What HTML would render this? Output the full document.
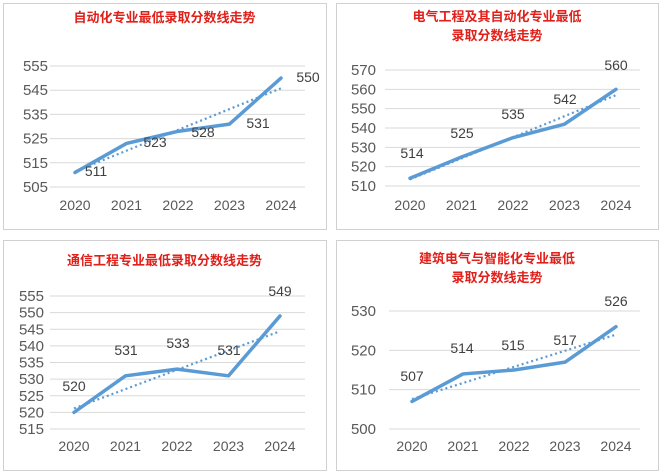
<!DOCTYPE html>
<html><head><meta charset="utf-8"><style>
html,body{margin:0;padding:0;background:#fff;}
svg{display:block;}
text{font-family:"Liberation Sans","Noto Sans CJK SC",sans-serif;}
</style></head><body>
<svg id="s" width="662" height="474" xmlns="http://www.w3.org/2000/svg"></svg>
<script>
var s=document.getElementById('s');var h='';
var P=[
 {bx:3,by:3,bw:323,bh:226,titles:[['自动化专业最低录取分数线走势',22]],ticks:[555,545,535,525,515,505],y0:66,y1:187,gx0:50,gx1:305,tx:48,x0:75,dx:51.5,
  data:[511,523,528,531,550],lab:[[96,176],[155,147],[203,137],[258,128],[308,82]],yl:210},
 {bx:336,by:3,bw:322,bh:226,titles:[['电气工程及其自动化专业最低',21],['录取分数线走势',40]],ticks:[570,560,550,540,530,520,510],y0:70,y1:186,gx0:385,gx1:640,tx:376,x0:410,dx:51.5,
  data:[514,525,535,542,560],lab:[[412,158],[462,138],[513,119],[565,104],[616,70]],yl:210},
 {bx:3,by:240,bw:323,bh:230,titles:[['通信工程专业最低录取分数线走势',265]],ticks:[555,550,545,540,535,530,525,520,515],y0:296,y1:429,gx0:50,gx1:305,tx:44,x0:74,dx:51.5,
  data:[520,531,533,531,549],lab:[[74,391],[126,355],[178,348],[229,355],[280,296]],yl:451},
 {bx:336,by:240,bw:322,bh:230,titles:[['建筑电气与智能化专业最低',263],['录取分数线走势',282]],ticks:[530,520,510,500],y0:311,y1:429,gx0:389,gx1:640,tx:376,x0:412,dx:51,
  data:[507,514,515,517,526],lab:[[412,381],[462,353],[513,350],[565,345],[616,306]],yl:451}
];
P.forEach(function(p){
 h+='<rect x="'+p.bx+'.5" y="'+p.by+'.5" width="'+p.bw+'" height="'+p.bh+'" fill="#fff" stroke="#d0d0d0"/>';
 var cx=p.bx+p.bw/2;
 p.titles.forEach(function(t){h+='<text x="'+cx+'" y="'+t[1]+'" text-anchor="middle" font-size="13" font-weight="bold" fill="#e0201a">'+t[0]+'</text>';});
 var n=p.ticks.length,vmax=p.ticks[0],vmin=p.ticks[n-1];
 function Y(v){return p.y0+(vmax-v)/(vmax-vmin)*(p.y1-p.y0);}
 function X(i){return p.x0+i*p.dx;}
 p.ticks.forEach(function(v){var y=Y(v);
  h+='<line x1="'+p.gx0+'" x2="'+p.gx1+'" y1="'+y+'" y2="'+y+'" stroke="#d9d9d9"/>';
  h+='<text x="'+p.tx+'" y="'+(y+5)+'" text-anchor="end" font-size="15" fill="#595959">'+v+'</text>';});
 for(var i=0;i<5;i++)h+='<text x="'+X(i)+'" y="'+p.yl+'" text-anchor="middle" font-size="14" fill="#595959">'+(2020+i)+'</text>';
 var m=p.data.reduce(function(a,b){return a+b;},0)/5,sl=0;for(i=0;i<5;i++)sl+=(i-2)*p.data[i];sl/=10;
 h+='<line x1="'+X(0)+'" y1="'+Y(m-2*sl)+'" x2="'+X(4)+'" y2="'+Y(m+2*sl)+'" stroke="#5b9bd5" stroke-width="2.2" stroke-dasharray="2 3"/>';
 var pts=p.data.map(function(v,i){return X(i)+','+Y(v);}).join(' ');
 h+='<polyline points="'+pts+'" fill="none" stroke="#5b9bd5" stroke-width="3.5" stroke-linejoin="round" stroke-linecap="round"/>';
 p.lab.forEach(function(l,i){h+='<text x="'+l[0]+'" y="'+l[1]+'" text-anchor="middle" font-size="14" fill="#404040">'+p.data[i]+'</text>';});
});
s.innerHTML=h;
</script>
</body></html>
